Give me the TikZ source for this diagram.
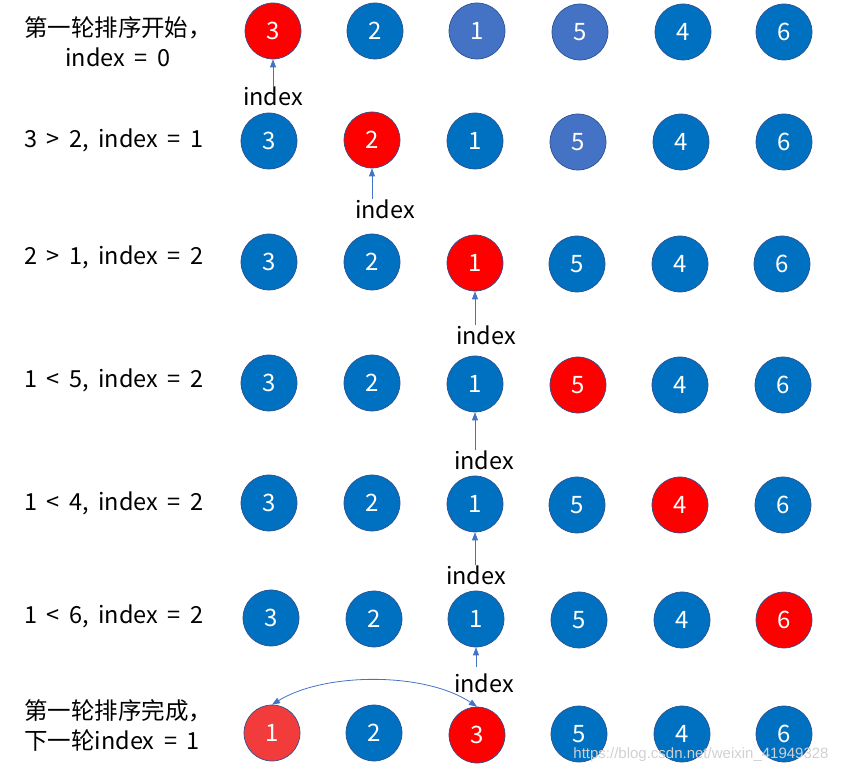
\documentclass[tikz,border=0pt]{standalone}
\usepackage{fontspec}
\setmainfont{Noto Sans CJK SC}[WordSpace=1.8]
\usetikzlibrary{arrows.meta}
\definecolor{bblue}{HTML}{0070C0}
\definecolor{lblue}{HTML}{4472C4}
\definecolor{bred}{HTML}{FF0000}
\definecolor{lred}{HTML}{F23C3C}
\definecolor{edge}{HTML}{2F528F}
\definecolor{arr}{HTML}{4472C4}
\tikzset{
  ball/.style={circle, minimum size=56pt, inner sep=0pt, draw=edge, line width=0.7pt, text=white, font=\fontsize{24}{24}\selectfont},
  bb/.style={ball, fill=bblue},
  lb/.style={ball, fill=lblue},
  rb/.style={ball, fill=bred},
  lr/.style={ball, fill=lred},
  idx/.style={inner sep=0pt, font=\fontsize{23.5}{23.5}\selectfont},
  lefttxt/.style={anchor=west, inner sep=0pt, font=\fontsize{23.5}{23.5}\selectfont},
  ptr/.style={draw=arr, line width=0.8pt, -{Triangle[width=6pt,length=8pt]}},
}
\begin{document}
\begin{tikzpicture}[x=1pt,y=-1pt]
\useasboundingbox (0,0) rectangle (847,775);
% row 1
\node[rb] (r1a) at (273,31) {3};
\node[bb] (r1b) at (375,31) {2};
\node[lb] (r1c) at (477,31) {1};
\node[lb] (r1d) at (580,32) {5};
\node[bb] (r1e) at (683,32) {4};
\node[bb] (r1f) at (784,32) {6};
\node[font=\fontsize{23.5}{30}\selectfont, align=center, inner sep=0pt] (t1) at (118,42) {第一轮排序开始，\\index = 0};
\node[idx] (i1) at (273,96) {index};
\draw[ptr] (r1a.south |- i1.north) -- (r1a.south);
% row 2
\node[bb] (r2a) at (269,141) {3};
\node[rb] (r2b) at (372,140) {2};
\node[bb] (r2c) at (475,141) {1};
\node[lb] (r2d) at (578,142) {5};
\node[bb] (r2e) at (681,142) {4};
\node[bb] (r2f) at (784,142) {6};
\node[lefttxt] (t2) at (24,140) {3 > 2, index = 1};
\node[idx] (i2) at (385,209) {index};
\draw[ptr] (r2b.south |- i2.north) -- (r2b.south);
% row 3
\node[bb] (r3a) at (269,262) {3};
\node[bb] (r3b) at (372,262) {2};
\node[rb] (r3c) at (475,263) {1};
\node[bb] (r3d) at (577,264) {5};
\node[bb] (r3e) at (680,264) {4};
\node[bb] (r3f) at (782,264) {6};
\node[lefttxt] (t3) at (24,257) {2 > 1, index = 2};
\node[idx] (i3) at (486,335) {index};
\draw[ptr] (r3c.south |- i3.north) -- (r3c.south);
% row 4
\node[bb] (r4a) at (269,383) {3};
\node[bb] (r4b) at (372,383) {2};
\node[bb] (r4c) at (475,384) {1};
\node[rb] (r4d) at (578,385) {5};
\node[bb] (r4e) at (680,385) {4};
\node[bb] (r4f) at (783,385) {6};
\node[lefttxt] (t4) at (24,380) {1 < 5, index = 2};
\node[idx] (i4) at (484,460) {index};
\draw[ptr] (r4c.south |- i4.north) -- (r4c.south);
% row 5
\node[bb] (r5a) at (269,503) {3};
\node[bb] (r5b) at (372,503) {2};
\node[bb] (r5c) at (475,504) {1};
\node[bb] (r5d) at (577,505) {5};
\node[rb] (r5e) at (680,505) {4};
\node[bb] (r5f) at (783,505) {6};
\node[lefttxt] (t5) at (24,503) {1 < 4, index = 2};
\node[idx] (i5) at (476,575) {index};
\draw[ptr] (r5c.south |- i5.north) -- (r5c.south);
% row 6
\node[bb] (r6a) at (271,618) {3};
\node[bb] (r6b) at (374,619) {2};
\node[bb] (r6c) at (476,619) {1};
\node[bb] (r6d) at (579,620) {5};
\node[bb] (r6e) at (682,620) {4};
\node[rb] (r6f) at (784,620) {6};
\node[lefttxt] (t6) at (24,616) {1 < 6, index = 2};
\node[idx] (i6) at (484,683) {index};
\coordinate (p6) at ([yshift=6pt]r6c.south |- i6.north);
\draw[ptr] (p6) -- (r6c.south);
% row 7
\node[lr] (r7a) at (272,733) {1};
\node[bb] (r7b) at (374,733) {2};
\node[rb] (r7c) at (477,735) {3};
\node[bb] (r7d) at (579,734) {5};
\node[bb] (r7e) at (682,734) {4};
\node[bb] (r7f) at (784,734) {6};
\node[lefttxt] (t7a) at (24,711) {第一轮排序完成，};
\node[lefttxt] (t7b) at (24,741) {下一轮index = 1};
\draw[draw=arr, line width=0.8pt, {Triangle[width=6pt,length=8pt]}-{Triangle[width=6pt,length=8pt]}]
  (r7a.north) .. controls (325,672) and (425,672) .. (r7c.north);
% watermark
\node[inner sep=0pt, text=black!18, font=\fontsize{15}{15}\selectfont\fontspec{Liberation Sans}] (wm) at (701,755) {https://blog.csdn.net/weixin\_41949328};
\end{tikzpicture}
\end{document}
